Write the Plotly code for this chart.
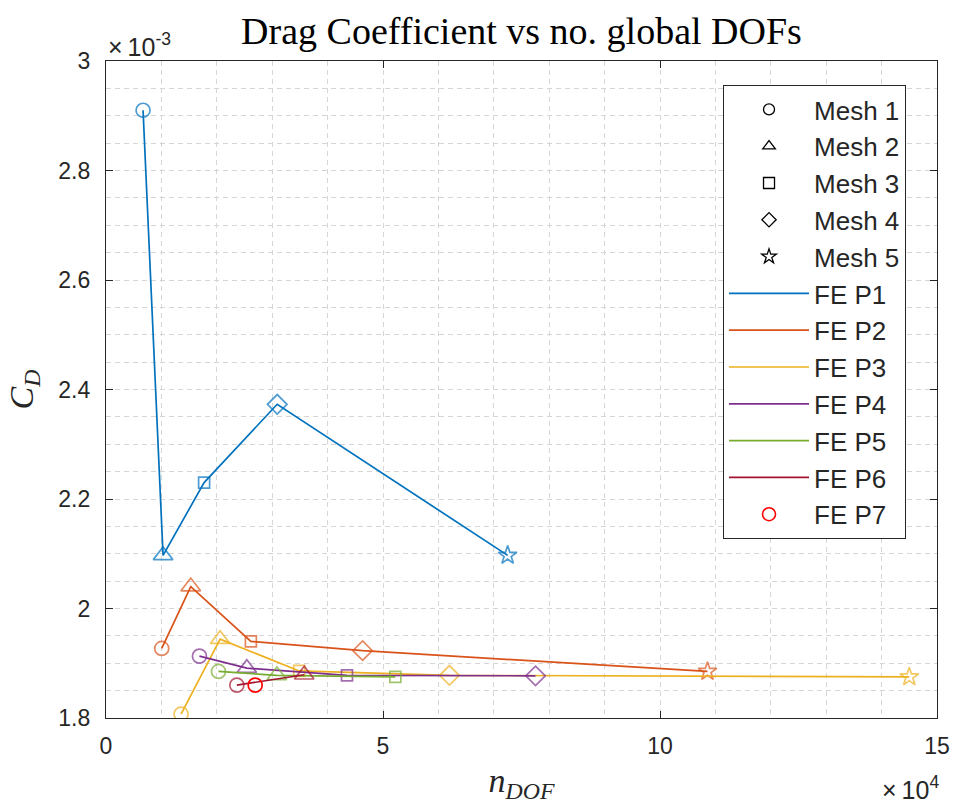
import numpy as np
import plotly.graph_objects as go

# Number of global degrees of freedom per mesh, for each FE polynomial order
ndof_p1 = [6690, 10300, 17710, 30900, 72500]
ndof_p2 = [10060, 15300, 26150, 46320, 108570]
ndof_p3 = [13550, 20600, 34880, 61990, 145000]
ndof_p4 = [16870, 25420, 43500, 77530]
ndof_p5 = [20300, 30850, 52230]
ndof_p6 = [23620, 35780]
ndof_p7 = [26930]

# Drag coefficient, in units of 1e-3
cd_p1 = [2.910, 2.097, 2.230, 2.373, 2.097]
cd_p2 = [1.927, 2.040, 1.940, 1.923, 1.885]
cd_p3 = [1.807, 1.944, 1.886, 1.878, 1.875]
cd_p4 = [1.913, 1.891, 1.878, 1.877]
cd_p5 = [1.885, 1.878, 1.875]
cd_p6 = [1.860, 1.879]
cd_p7 = [1.860]

CD_SCALE = 1e-3

mesh_names = ["Mesh 1", "Mesh 2", "Mesh 3", "Mesh 4", "Mesh 5"]
mesh_symbols = ["circle-open", "triangle-up-open", "square-open", "diamond-open", "star-open"]
mesh_sizes = [14, 17, 11, 15, 14]

series = [
    ("FE P1", ndof_p1, cd_p1, "#0072BD"),
    ("FE P2", ndof_p2, cd_p2, "#D95319"),
    ("FE P3", ndof_p3, cd_p3, "#EDB120"),
    ("FE P4", ndof_p4, cd_p4, "#7E2F8E"),
    ("FE P5", ndof_p5, cd_p5, "#77AC30"),
    ("FE P6", ndof_p6, cd_p6, "#A2142F"),
]

y_ticks = [1.8, 2.0, 2.2, 2.4, 2.6, 2.8, 3.0]
y_ticktext = ["1.8", "2", "2.2", "2.4", "2.6", "2.8", "3"]
x_ticks = [0, 50000, 100000, 150000]
x_ticktext = ["0", "5", "10", "15"]

TEXT = "#262626"
GRID = "#D6D6D6"

fig = go.Figure()

# Data curves: one polyline per order, each mesh marked by its symbol
for name, xs, ys, col in series:
    n = len(xs)
    fig.add_trace(go.Scatter(
        x=xs, y=np.array(ys) * CD_SCALE, mode="lines+markers",
        line=dict(color=col, width=1.7),
        marker=dict(symbol=mesh_symbols[:n], size=mesh_sizes[:n],
                    color=col, line=dict(color=col, width=1.7)),
        showlegend=False, hoverinfo="skip"))

fig.add_trace(go.Scatter(
    x=ndof_p7, y=np.array(cd_p7) * CD_SCALE, mode="markers",
    marker=dict(symbol="circle-open", size=14, color="#FF0000",
                line=dict(color="#FF0000", width=1.7)),
    showlegend=False, hoverinfo="skip"))

# Legend entries: mesh symbols in black, orders as plain lines
for name, sym in zip(mesh_names, mesh_symbols):
    fig.add_trace(go.Scatter(
        x=[None], y=[None], mode="markers", name=name,
        marker=dict(symbol=sym, size=11, color="black",
                    line=dict(color="black", width=1.3))))
for name, xs, ys, col in series:
    fig.add_trace(go.Scatter(
        x=[None], y=[None], mode="lines", name=name,
        line=dict(color=col, width=1.7)))
fig.add_trace(go.Scatter(
    x=[None], y=[None], mode="markers", name="FE P7",
    marker=dict(symbol="circle-open", size=13, color="#FF0000",
                line=dict(color="#FF0000", width=1.6))))

axis_common = dict(
    showline=True, linecolor=TEXT, linewidth=1.3, mirror="ticks",
    ticks="inside", ticklen=7, tickwidth=1, tickcolor=TEXT,
    showgrid=True, gridcolor=GRID, griddash="5px,4px", gridwidth=1,
    zeroline=False, automargin=False,
    tickfont=dict(family="Liberation Sans, Arial", size=23, color=TEXT),
)

fig.update_xaxes(
    range=[0, 150000], tickvals=x_ticks, ticktext=x_ticktext,
    minor=dict(dtick=10000, showgrid=True, gridcolor=GRID,
               griddash="5px,4px", gridwidth=1, ticks=""),
    title=dict(text="<i>n</i><sub><i>DOF</i></sub>",
               font=dict(family="Liberation Serif, Times New Roman", size=34, color=TEXT),
               standoff=12),
    ticklabelstandoff=7,
    **axis_common)

fig.update_yaxes(
    range=[1.8e-3, 3.0e-3], tickvals=[v * CD_SCALE for v in y_ticks], ticktext=y_ticktext,
    minor=dict(dtick=0.05e-3, showgrid=True, gridcolor=GRID,
               griddash="5px,4px", gridwidth=1, ticks=""),
    title=dict(text="<i>C</i><sub><i>D</i></sub>",
               font=dict(family="Liberation Serif, Times New Roman", size=34, color=TEXT),
               standoff=14),
    ticklabelstandoff=10,
    **axis_common)

fig.add_annotation(
    xref="paper", yref="paper", x=0.0, y=1.0, xanchor="left", yanchor="bottom",
    yshift=-2, showarrow=False,
    text="\u00d7\u200910<sup>-3</sup>",
    font=dict(family="Liberation Sans, Arial", size=25, color=TEXT))
fig.add_annotation(
    xref="paper", yref="paper", x=1.0, y=0.0, xanchor="right", yanchor="top",
    yshift=-52, xshift=4, showarrow=False,
    text="\u00d7\u200910<sup>4</sup>",
    font=dict(family="Liberation Sans, Arial", size=25, color=TEXT))

fig.update_layout(
    width=956, height=804,
    margin=dict(l=106, r=19, t=61, b=86),
    paper_bgcolor="white", plot_bgcolor="white",
    title=dict(text="Drag Coefficient vs no. global DOFs",
               x=(106 + 937) / 2 / 956, xanchor="center", y=0.962, yanchor="middle",
               font=dict(family="Liberation Serif, Times New Roman", size=38, color="black")),
    legend=dict(
        x=0.7425, y=0.9635, xanchor="left", yanchor="top",
        bgcolor="white", bordercolor=TEXT, borderwidth=1,
        font=dict(family="Liberation Sans, Arial", size=26, color=TEXT),
        itemwidth=80, tracegroupgap=0),
)

fig.write_html("out.html")
